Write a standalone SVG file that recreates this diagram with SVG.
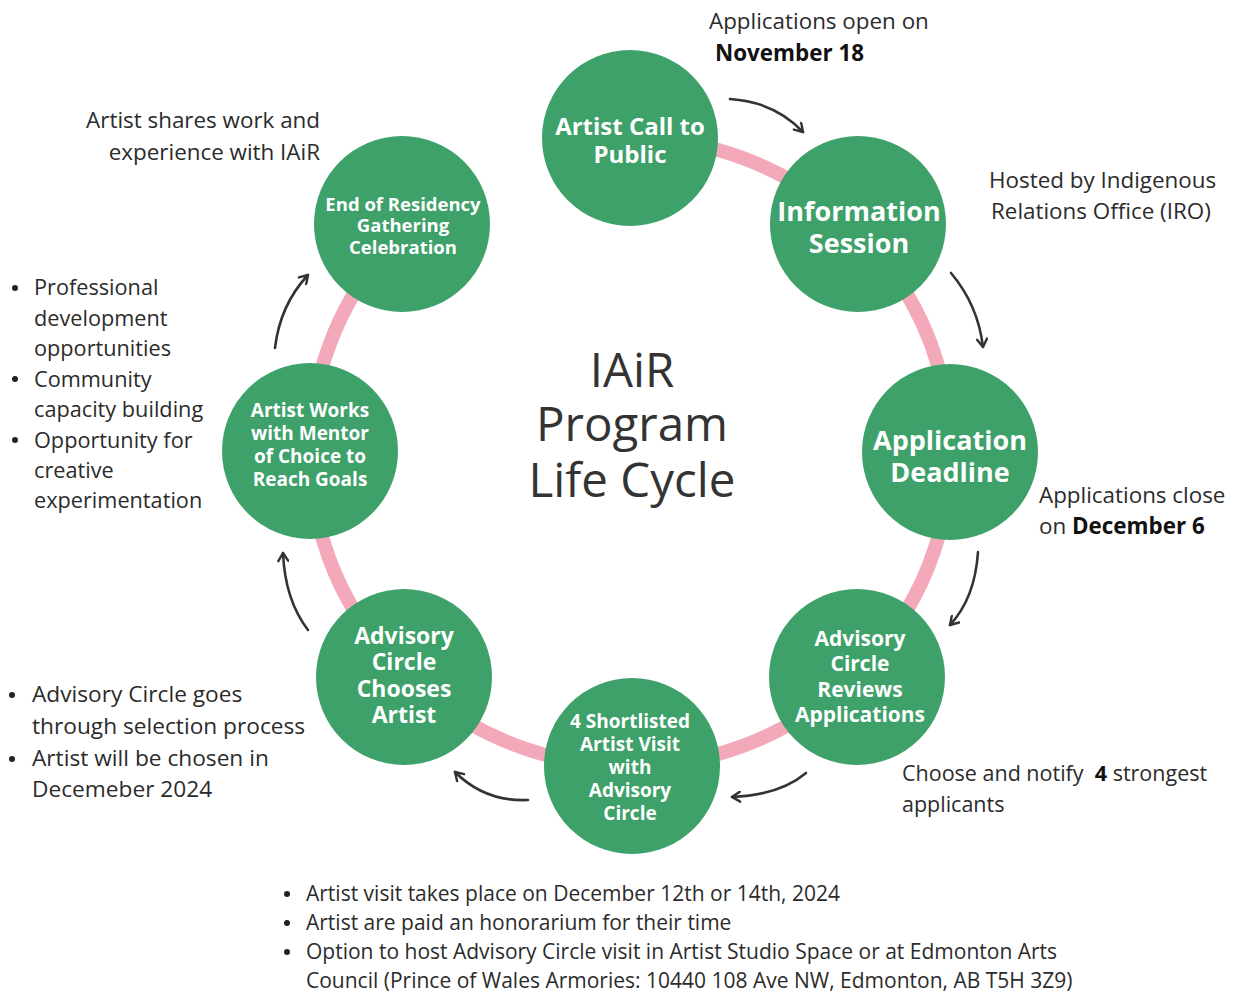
<svg xmlns="http://www.w3.org/2000/svg" width="1241" height="994" viewBox="0 0 1241 994">
<style>
.node{fill:#3DA169}
.nt{font-family:"Open Sans","Noto Sans",sans-serif;font-weight:700;fill:#fff;text-anchor:middle}
.t{font-family:"Open Sans","Noto Sans",sans-serif;font-size:22.4px;fill:#2b2b2b}
.s1{font-size:21.7px}
.s2{font-size:22.7px}
.s3{font-size:21px}
.s4{font-size:21.5px}
.b{font-weight:700;fill:#111}
.arr{fill:none;stroke:#333;stroke-width:2.6;stroke-linecap:round;marker-end:url(#ah)}
.title{font-family:"Open Sans","Noto Sans",sans-serif;font-size:47.5px;fill:#333;text-anchor:middle}
</style>
<defs>
<marker id="ah" viewBox="0 0 12 12" refX="10" refY="6" markerWidth="12" markerHeight="12" markerUnits="userSpaceOnUse" orient="auto">
<path d="M2,1 L10,6 L2,11" fill="none" stroke="#333" stroke-width="2.4" stroke-linecap="round" stroke-linejoin="round"/>
</marker>
</defs>
<rect width="1241" height="994" fill="#fff"/>
<path id="ring" d="M630,138 A320,314 0 1 1 404,230" fill="none" stroke="#F3A9B9" stroke-width="14"/>
<g id="connectors">
<path class="arr" d="M730,99 Q775,102 803,132"/>
<path class="arr" d="M951,273 Q978,305 983,347"/>
<path class="arr" d="M978,552 Q975,598 950,625"/>
<path class="arr" d="M806,773 Q780,795 732,797"/>
<path class="arr" d="M528,800 Q485,802 455,772"/>
<path class="arr" d="M308,630 Q285,600 283,553"/>
<path class="arr" d="M275,348 Q280,305 308,275"/>
</g>
<g id="n1"><circle class="node" cx="630" cy="138" r="88"/>
<text class="nt" font-size="24"><tspan x="630" y="135">Artist Call to</tspan><tspan x="630" y="163">Public</tspan></text></g>
<g id="n2"><circle class="node" cx="858" cy="224" r="88"/>
<text class="nt" font-size="27"><tspan x="859" y="221">Information</tspan><tspan x="859" y="253">Session</tspan></text></g>
<g id="n3"><circle class="node" cx="950" cy="452" r="88"/>
<text class="nt" font-size="27"><tspan x="950" y="450">Application</tspan><tspan x="950" y="482">Deadline</tspan></text></g>
<g id="n4"><circle class="node" cx="857" cy="677" r="88"/>
<text class="nt" font-size="21"><tspan x="860" y="646">Advisory</tspan><tspan x="860" y="671">Circle</tspan><tspan x="860" y="697">Reviews</tspan><tspan x="860" y="722">Applications</tspan></text></g>
<g id="n5"><circle class="node" cx="632" cy="766" r="88"/>
<text class="nt" font-size="19"><tspan x="630" y="728">4 Shortlisted</tspan><tspan x="630" y="751">Artist Visit</tspan><tspan x="630" y="774">with</tspan><tspan x="630" y="797">Advisory</tspan><tspan x="630" y="820">Circle</tspan></text></g>
<g id="n6"><circle class="node" cx="404" cy="677" r="88"/>
<text class="nt" font-size="23"><tspan x="404" y="644">Advisory</tspan><tspan x="404" y="670">Circle</tspan><tspan x="404" y="697">Chooses</tspan><tspan x="404" y="723">Artist</tspan></text></g>
<g id="n7"><circle class="node" cx="310" cy="451" r="88"/>
<text class="nt" font-size="19"><tspan x="310" y="417">Artist Works</tspan><tspan x="310" y="440">with Mentor</tspan><tspan x="310" y="463">of Choice to</tspan><tspan x="310" y="486">Reach Goals</tspan></text></g>
<g id="n8"><circle class="node" cx="402" cy="224" r="88"/>
<text class="nt" font-size="18.5"><tspan x="403" y="211">End of Residency</tspan><tspan x="403" y="232">Gathering</tspan><tspan x="403" y="254">Celebration</tspan></text></g>
<g id="center"><text class="title"><tspan x="632" y="387">IAiR</tspan><tspan x="632" y="441">Program</tspan><tspan x="632" y="497">Life Cycle</tspan></text></g>
<g id="notes">
<text class="t"><tspan x="709" y="29">Applications open on</tspan><tspan x="715" y="61" class="b">November 18</tspan></text>
<text class="t" text-anchor="end"><tspan x="320" y="128">Artist shares work and</tspan><tspan x="320" y="160">experience with IAiR</tspan></text>
<text class="t"><tspan x="989" y="188">Hosted by Indigenous</tspan><tspan x="991" y="219">Relations Office (IRO)</tspan></text>
<text class="t"><tspan x="1039" y="503">Applications close</tspan><tspan x="1039" y="534">on <tspan class="b">December 6</tspan></tspan></text>
<text class="t s4" xml:space="preserve"><tspan x="902" y="781">Choose and notify  <tspan class="b">4</tspan> strongest</tspan><tspan x="902" y="812">applicants</tspan></text>
<g>
<circle cx="15" cy="288" r="3" fill="#222"/><circle cx="15" cy="379" r="3" fill="#222"/><circle cx="15" cy="440" r="3" fill="#222"/>
<text class="t s1"><tspan x="34" y="295">Professional</tspan><tspan x="34" y="326">development</tspan><tspan x="34" y="356">opportunities</tspan><tspan x="34" y="387">Community</tspan><tspan x="34" y="417">capacity building</tspan><tspan x="34" y="448">Opportunity for</tspan><tspan x="34" y="478">creative</tspan><tspan x="34" y="508">experimentation</tspan></text>
<circle cx="12" cy="695" r="3" fill="#222"/><circle cx="12" cy="759" r="3" fill="#222"/>
<text class="t s2"><tspan x="32" y="702">Advisory Circle goes</tspan><tspan x="32" y="734">through selection process</tspan><tspan x="32" y="766">Artist will be chosen in</tspan><tspan x="32" y="797">Decemeber 2024</tspan></text>
<circle cx="287" cy="894" r="3" fill="#222"/><circle cx="287" cy="923" r="3" fill="#222"/><circle cx="287" cy="952" r="3" fill="#222"/>
<text class="t s3"><tspan x="306" y="901">Artist visit takes place on December 12th or 14th, 2024</tspan><tspan x="306" y="930">Artist are paid an honorarium for their time</tspan><tspan x="306" y="959">Option to host Advisory Circle visit in Artist Studio Space or at Edmonton Arts</tspan><tspan x="306" y="988">Council (Prince of Wales Armories: 10440 108 Ave NW, Edmonton, AB T5H 3Z9)</tspan></text>
</g>
</g>
</svg>
